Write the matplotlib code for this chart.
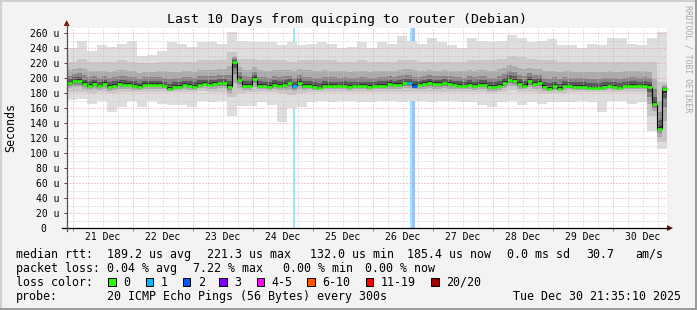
import numpy as np
import matplotlib.pyplot as plt
import matplotlib.colors as mcolors
from matplotlib.lines import Line2D
from matplotlib.patches import Polygon, Rectangle

W, H = 697, 310
MONO = 'DejaVu Sans Mono'

# time axis in hours since Dec 20 00:00
start_h = 21 + 35 / 60 + 10 / 3600      # Dec 20 21:35:10
span_h = 240
median_step = 2.0                        # hours per median value
smoke_step = 4.0                         # hours per smoke value

# median rtt (us), one value per 2 h
median_rtt = [193, 196, 196, 192, 190, 192, 189, 192, 188, 190,
              192, 191, 191, 190, 188, 191, 191, 191, 191, 189,
              186, 188, 188, 191, 190, 188, 191, 192, 191, 192,
              193, 193, 188, 221.3, 198, 190, 189, 199, 190, 189,
              188, 191, 190, 191, 193, 189, 194, 190, 190, 188,
              187, 190, 189, 189, 189, 190, 188, 189, 189, 189,
              188, 189, 190, 190, 192, 191, 191, 193, 193, 190,
              191, 192, 194, 192, 192, 193, 192, 191, 190, 189,
              191, 189, 191, 191, 188, 188, 190, 194, 198, 196,
              192, 189, 196, 192, 194, 188, 186, 189, 186, 190,
              189, 188, 188, 188, 187, 187, 187, 188, 189, 188,
              187, 189, 190, 190, 189, 190, 188, 165, 132.0, 185.4]

# smoke envelope (us), one value per 4 h
smoke_top = [240, 250, 236, 244, 242, 246, 250, 229, 231, 236,
             248, 246, 242, 248, 248, 246, 262, 250, 248, 248,
             248, 244, 248, 244, 246, 248, 246, 240, 242, 248,
             240, 248, 246, 256, 250, 246, 254, 248, 244, 240,
             254, 250, 248, 250, 258, 254, 248, 250, 252, 244,
             244, 240, 246, 244, 254, 254, 246, 244, 254, 262]
smoke_hi = [222, 225, 222, 222, 222, 224, 222, 220, 220, 222,
            222, 222, 222, 224, 224, 224, 235, 225, 225, 224,
            224, 224, 222, 224, 224, 224, 224, 222, 222, 224,
            222, 222, 222, 224, 224, 222, 222, 222, 222, 222,
            224, 224, 224, 226, 230, 228, 226, 224, 224, 222,
            222, 222, 222, 222, 222, 222, 222, 222, 222, 195]
smoke_lo = [182, 182, 180, 181, 180, 181, 181, 181, 182, 182,
            181, 182, 181, 183, 182, 182, 175, 180, 181, 182,
            181, 180, 178, 180, 182, 182, 182, 182, 182, 182,
            182, 182, 182, 182, 182, 182, 182, 182, 182, 182,
            181, 182, 180, 181, 184, 182, 182, 180, 180, 180,
            182, 182, 182, 182, 182, 182, 182, 182, 150, 115]
smoke_min = [171, 172, 166, 170, 155, 162, 170, 162, 170, 165,
             164, 164, 162, 170, 168, 170, 150, 163, 163, 168,
             164, 142, 160, 162, 168, 170, 168, 170, 170, 168,
             168, 170, 170, 168, 170, 170, 168, 170, 170, 168,
             168, 164, 162, 168, 170, 164, 168, 166, 168, 168,
             168, 170, 168, 155, 170, 170, 166, 168, 130, 105]

# packet loss events: hours after start, lost pings
loss_start = [90.4, 137.3, 138.3]
loss_pings = [1, 1, 2]
median_loss_idx = [45, 68, 69]
median_loss_pings = [1, 1, 2]

day_labels = ['21 Dec', '22 Dec', '23 Dec', '24 Dec', '25 Dec',
              '26 Dec', '27 Dec', '28 Dec', '29 Dec', '30 Dec']
loss_names = ['0', '1', '2', '3', '4-5', '6-10', '11-19', '20/20']
loss_colors = ['#26ff00', '#00b8ff', '#0059ff', '#7e00ff',
               '#ff00ff', '#ff5500', '#ff0000', '#a10000']


def P(x, y):
    return x / W, 1 - y / H


def light(c, f=0.62):
    r, g, b = mcolors.to_rgb(c)
    return (r + (1 - r) * f, g + (1 - g) * f, b + (1 - b) * f)


fig = plt.figure(figsize=(W / 100, H / 100), dpi=100, facecolor='#f3f3f3')
ax = fig.add_axes([66.7 / W, (H - 228) / H, 600 / W, 200 / H])
ax.set_facecolor('white')
ymax = 200 / 0.75
ax.set_xlim(start_h, start_h + span_h)
ax.set_ylim(0, ymax)

med = np.array(median_rtt, dtype=float)
n = len(med)
edges = start_h + median_step * np.arange(n + 1)
rep = int(smoke_step / median_step)
top = np.repeat(smoke_top, rep).astype(float)
hi = np.repeat(smoke_hi, rep).astype(float)
lo = np.repeat(smoke_lo, rep).astype(float)
mn = np.repeat(smoke_min, rep).astype(float)

# loss background bars
for s, p in zip(loss_start, loss_pings):
    ax.bar(start_h + s, ymax, width=1.0, bottom=0, align='edge',
           color=light(loss_colors[p]), lw=0, zorder=1)


def band(lower, upper, color, z):
    ax.fill_between(edges, np.append(lower, lower[-1]), np.append(upper, upper[-1]),
                    step='post', color=color, lw=0, zorder=z)


band(mn, top, '#dedede', 2)
band(lo, hi, '#c8c8c8', 2.1)
shades = [(0.6, '#ababab'), (0.35, '#868686'), (0.18, '#5a5a5a'), (0.07, '#2e2e2e')]
for k, (f, c) in enumerate(shades):
    band(med - f * (med - lo), med + f * (hi - med), c, 2.2 + 0.1 * k)

# grid (drawn over the smoke like rrdtool)
all_6h = np.arange(6, 270, 6)
inside = all_6h[(all_6h > start_h) & (all_6h < start_h + span_h)]
minor_x = inside[inside % 24 != 0]
major_x = inside[inside % 24 == 0]
ax.vlines(minor_x, 0, ymax, colors='#c8c8c8', lw=0.72, linestyles=(0, (1, 2)), zorder=3)
ax.vlines(major_x, 0, ymax, colors='#f09a9a', lw=0.72, linestyles=(0, (1, 2)), zorder=3.1)
ax.hlines(np.arange(10, 260, 20), start_h, start_h + span_h, colors='#c8c8c8',
          lw=0.72, linestyles=(0, (1, 2)), zorder=3)
ax.hlines(np.arange(20, 261, 20), start_h, start_h + span_h, colors='#f09a9a',
          lw=0.72, linestyles=(0, (1, 2)), zorder=3.1)
ax.vlines(major_x, -4, 0, colors='#e06060', lw=0.72, clip_on=False, zorder=3)

# median line coloured by loss
cols = [loss_colors[0]] * n
for i, p in zip(median_loss_idx, median_loss_pings):
    cols[i] = loss_colors[p]
ax.vlines(edges[1:-1], med[:-1], med[1:], colors='black', lw=0.8, zorder=4)
ax.hlines(med, edges[:-1], edges[1:], colors=cols, lw=1.9, zorder=5)

for s in ax.spines.values():
    s.set_visible(False)
ax.set_yticks(np.arange(0, 261, 20))
ax.set_yticklabels(['0  '] + [f'{v} u' for v in range(20, 261, 20)],
                   family=MONO, fontsize=7.05)
ax.set_xticks(np.arange(36, 253, 24))
ax.set_xticklabels(day_labels, family=MONO, fontsize=7.05)
ax.tick_params(axis='x', length=0, pad=3)
ax.tick_params(axis='y', length=2.2, width=0.72, pad=3.3, color='#444444')

# axes with arrows
fig.add_artist(Line2D([62 / W, 670 / W], [1 - 228 / H] * 2, color='black', lw=0.9))
fig.add_artist(Line2D([66.7 / W] * 2, [1 - 231 / H, 1 - 24 / H], color='#505050', lw=0.9))
fig.add_artist(Polygon([P(667, 225), P(667, 231), P(673, 228)], closed=True,
                       transform=fig.transFigure, color='#7f1010', lw=0))
fig.add_artist(Polygon([P(63.7, 26), P(69.7, 26), P(66.7, 20)], closed=True,
                       transform=fig.transFigure, color='#7f1010', lw=0))

# titles
fig.text(*P(346.7, 19), 'Last 10 Days from quicping to router (Debian)',
         ha='center', va='center', family=MONO, fontsize=9.5)
fig.text(*P(11, 128), 'Seconds', rotation=90, ha='center', va='center',
         family=MONO, fontsize=8.4)
fig.text(*P(688, 59), 'RRDTOOL / TOBI OETIKER', rotation=270, ha='center',
         va='center', family=MONO, fontsize=5.9, color='#a8a8a8')

# legend
rows = [254.3, 268.3, 282.3, 296.3]
leg1 = [(16, 'median rtt:'), (107.3, '189.2 us avg'), (207.3, '221.3 us max'),
        (310, '132.0 us min'), (407.3, '185.4 us now'), (507.3, '0.0 ms sd'),
        (586, '30.7'), (635, 'am/s')]
leg2 = [(16, 'packet loss:'), (107.3, '0.04 % avg'), (192.7, '7.22 % max'),
        (283, '0.00 % min'), (365, '0.00 % now')]
leg4 = [(16, 'probe:'), (107.3, '20 ICMP Echo Pings (56 Bytes) every 300s'),
        (513.3, 'Tue Dec 30 21:35:10 2025')]
for y, items in zip([rows[0], rows[1], rows[3]], [leg1, leg2, leg4]):
    for x, t in items:
        fig.text(*P(x, y), t, ha='left', va='center', family=MONO, fontsize=8.4)

fig.text(*P(16, rows[2]), 'loss color:', ha='left', va='center', family=MONO, fontsize=8.4)
box_x = [108.3, 145.7, 182.7, 219.3, 256.7, 307.3, 365.7, 431]
for bx, name, c in zip(box_x, loss_names, loss_colors):
    fig.add_artist(Rectangle(P(bx, rows[2] + 4), 7.5 / W, 8 / H, transform=fig.transFigure,
                             fc=c, ec='black', lw=0.72))
    fig.text(*P(bx + 15, rows[2]), name, ha='left', va='center', family=MONO, fontsize=8.4)

# canvas frame
fig.add_artist(Line2D([0, 1], [1 - 1 / H] * 2, color='#d0d0d0', lw=1.5))
fig.add_artist(Line2D([1 / W] * 2, [0, 1], color='#d0d0d0', lw=1.5))
fig.add_artist(Line2D([0, 1], [1.5 / H] * 2, color='#9c9c9c', lw=2.2))
fig.add_artist(Line2D([1 - 1.5 / W] * 2, [0, 1], color='#9c9c9c', lw=2.2))

fig.savefig('out.png', dpi=100, facecolor=fig.get_facecolor())
